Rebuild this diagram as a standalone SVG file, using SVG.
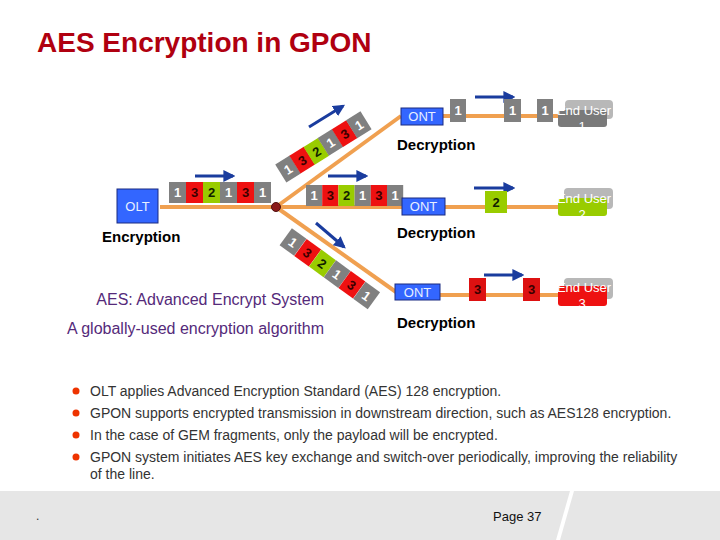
<svg xmlns="http://www.w3.org/2000/svg" width="720" height="540" viewBox="0 0 720 540">
<defs>
<marker id="ah" viewBox="0 0 10 10" refX="8" refY="5" markerWidth="4" markerHeight="4" orient="auto" markerUnits="strokeWidth">
<path d="M0,0 L10,5 L0,10 z" fill="#1a3c9e"/>
</marker>
<style>
.fiber{stroke:#f0a050;stroke-width:4;fill:none}
.arr{stroke:#1a3c9e;stroke-width:3;fill:none;marker-end:url(#ah)}
.g{fill:#808080}
.r{fill:#ee1111}
.gr{fill:#99cc00}
.dw{font-family:"Liberation Sans",Arial,sans-serif;font-size:13px;font-weight:bold;fill:#ffffff;text-anchor:middle}
.dk{font-family:"Liberation Sans",Arial,sans-serif;font-size:13px;font-weight:bold;fill:#3a0000;text-anchor:middle}
.dg{font-family:"Liberation Sans",Arial,sans-serif;font-size:13px;font-weight:bold;fill:#102000;text-anchor:middle}
.ont{fill:#3366ff;stroke:#1a2a80;stroke-width:1}
.ontt{font-family:"Liberation Sans",Arial,sans-serif;font-size:13px;fill:#e8f0ff;text-anchor:middle}
.lbl{font-family:"Liberation Sans",Arial,sans-serif;font-size:15px;font-weight:bold;fill:#000}
.eu{font-family:"Liberation Sans",Arial,sans-serif;font-size:13px;fill:#ffffff;text-anchor:middle}
.sh{fill:#b8b8b8}
.bt{font-family:"Liberation Sans",Arial,sans-serif;font-size:14px;fill:#333}
.pur{font-family:"Liberation Sans",Arial,sans-serif;font-size:16px;fill:#552a7a;text-anchor:end}
</style>
</defs>
<rect width="720" height="540" fill="#ffffff"/>
<text x="37" y="52" font-family="Liberation Sans,Arial,sans-serif" font-size="28" font-weight="bold" fill="#b00010">AES Encryption in GPON</text>

<g id="connectors">
<line class="fiber" x1="160" y1="207" x2="276" y2="207"/>
<line class="fiber" x1="276" y1="207" x2="402" y2="207"/>
<line class="fiber" x1="276" y1="207" x2="401" y2="116"/>
<line class="fiber" x1="276" y1="207" x2="396" y2="292"/>
<line class="fiber" x1="443" y1="116" x2="560" y2="116"/>
<line class="fiber" x1="445" y1="207" x2="560" y2="207"/>
<line class="fiber" x1="440" y1="295" x2="560" y2="295"/>
<line class="arr" x1="195" y1="176" x2="233" y2="176"/>
<line class="arr" x1="328" y1="176" x2="366" y2="176"/>
<line class="arr" x1="309" y1="127" x2="343" y2="106"/>
<line class="arr" x1="316" y1="223" x2="344" y2="247"/>
<line class="arr" x1="475" y1="97" x2="513" y2="97"/>
<line class="arr" x1="474" y1="188" x2="513" y2="188"/>
<line class="arr" x1="484" y1="275" x2="522" y2="275"/>
</g>

<g id="splitter"><circle cx="276" cy="207" r="4.5" fill="#8b1a1a" stroke="#501010" stroke-width="1"/></g>

<g id="olt">
<rect x="117" y="189" width="41" height="34" fill="#3366ff" stroke="#1a2a80" stroke-width="1"/>
<text x="137.5" y="211" class="ontt" font-size="14">OLT</text>
<text x="102" y="242" class="lbl" font-size="14">Encryption</text>
</g>

<g id="packets-olt">
<rect class="g" x="169" y="182" width="17" height="21"/><text class="dw" x="177.5" y="197">1</text>
<rect class="r" x="186" y="182" width="17" height="21"/><text class="dk" x="194.5" y="197">3</text>
<rect class="gr" x="203" y="182" width="17" height="21"/><text class="dg" x="211.5" y="197">2</text>
<rect class="g" x="220" y="182" width="17" height="21"/><text class="dw" x="228.5" y="197">1</text>
<rect class="r" x="237" y="182" width="17" height="21"/><text class="dk" x="245.5" y="197">3</text>
<rect class="g" x="254" y="182" width="17" height="21"/><text class="dw" x="262.5" y="197">1</text>
</g>

<g id="packets-mid">
<rect class="g" x="306" y="185" width="16.2" height="21"/><text class="dw" x="314" y="200">1</text>
<rect class="r" x="322.2" y="185" width="16.2" height="21"/><text class="dk" x="330.3" y="200">3</text>
<rect class="gr" x="338.4" y="185" width="16.2" height="21"/><text class="dg" x="346.5" y="200">2</text>
<rect class="g" x="354.6" y="185" width="16.2" height="21"/><text class="dw" x="362.7" y="200">1</text>
<rect class="r" x="370.8" y="185" width="16.2" height="21"/><text class="dk" x="378.9" y="200">3</text>
<rect class="g" x="387" y="185" width="16.2" height="21"/><text class="dw" x="395.1" y="200">1</text>
</g>

<g id="packets-up" transform="translate(288,169) rotate(-32)">
<rect class="g" x="-8.5" y="-10.5" width="17" height="21"/><text class="dw" x="0" y="5">1</text>
<rect class="r" x="8.2" y="-10.5" width="17" height="21"/><text class="dk" x="16.7" y="5">3</text>
<rect class="gr" x="24.9" y="-10.5" width="17" height="21"/><text class="dg" x="33.4" y="5">2</text>
<rect class="g" x="41.6" y="-10.5" width="17" height="21"/><text class="dw" x="50.1" y="5">1</text>
<rect class="r" x="58.3" y="-10.5" width="17" height="21"/><text class="dk" x="66.8" y="5">3</text>
<rect class="g" x="75" y="-10.5" width="17" height="21"/><text class="dw" x="83.5" y="5">1</text>
</g>

<g id="packets-down" transform="translate(293,242) rotate(36)">
<rect class="g" x="-9" y="-10.5" width="18" height="21"/><text class="dw" x="0" y="5">1</text>
<rect class="r" x="9.2" y="-10.5" width="18" height="21"/><text class="dk" x="18.2" y="5">3</text>
<rect class="gr" x="27.4" y="-10.5" width="18" height="21"/><text class="dg" x="36.4" y="5">2</text>
<rect class="g" x="45.6" y="-10.5" width="18" height="21"/><text class="dw" x="54.6" y="5">1</text>
<rect class="r" x="63.8" y="-10.5" width="18" height="21"/><text class="dk" x="72.8" y="5">3</text>
<rect class="g" x="82" y="-10.5" width="18" height="21"/><text class="dw" x="91" y="5">1</text>
</g>

<g id="ont1">
<rect class="ont" x="401" y="108" width="42" height="17"/>
<text class="ontt" x="422" y="121">ONT</text>
<text class="lbl" x="397" y="150">Decryption</text>
</g>
<g id="ont2">
<rect class="ont" x="402" y="198" width="43" height="17"/>
<text class="ontt" x="423.5" y="211">ONT</text>
<text class="lbl" x="397" y="238">Decryption</text>
</g>
<g id="ont3">
<rect class="ont" x="395" y="284" width="45" height="16"/>
<text class="ontt" x="417.5" y="297">ONT</text>
<text class="lbl" x="397" y="328">Decryption</text>
</g>

<g id="packets-1">
<rect class="g" x="450" y="99" width="16" height="23"/><text class="dw" x="458" y="115">1</text>
<rect class="g" x="504" y="99" width="17" height="23"/><text class="dw" x="512.5" y="115">1</text>
<rect class="g" x="537" y="99" width="16" height="23"/><text class="dw" x="545" y="115">1</text>
</g>
<g id="packets-2">
<rect class="gr" x="485" y="191" width="22" height="22"/><text class="dg" x="496" y="207">2</text>
</g>
<g id="packets-3">
<rect fill="#dd1111" x="469" y="278" width="17" height="23"/><text class="dk" x="477.5" y="294">3</text>
<rect fill="#dd1111" x="523" y="278" width="17" height="23"/><text class="dk" x="531.5" y="294">3</text>
</g>

<g id="enduser1">
<rect class="sh" x="565" y="100" width="48" height="19" rx="4"/>
<rect fill="#7a7a7a" x="558" y="110" width="49" height="17" rx="3"/>
<text class="eu" x="584" y="115">End User</text>
<text class="eu" x="582" y="131">1</text>
</g>
<g id="enduser2">
<rect class="sh" x="564" y="188" width="49" height="21" rx="4"/>
<rect fill="#99cc00" x="558" y="198" width="49" height="18" rx="3"/>
<text class="eu" x="584" y="203">End User</text>
<text class="eu" x="582" y="219">2</text>
</g>
<g id="enduser3">
<rect class="sh" x="564" y="278" width="49" height="21" rx="4"/>
<rect fill="#ee1111" x="558" y="286" width="49" height="20" rx="3"/>
<text class="eu" x="584" y="292">End User</text>
<text class="eu" x="582" y="308">3</text>
</g>

<text class="pur" x="324" y="305">AES: Advanced Encrypt System</text>
<text class="pur" x="324" y="334">A globally-used encryption algorithm</text>

<g id="bullets">
<circle cx="76" cy="391" r="3.5" fill="#ee3300"/>
<circle cx="76" cy="413" r="3.5" fill="#ee3300"/>
<circle cx="76" cy="435" r="3.5" fill="#ee3300"/>
<circle cx="76" cy="457" r="3.5" fill="#ee3300"/>
<text class="bt" x="90" y="396">OLT applies Advanced Encryption Standard (AES) 128 encryption.</text>
<text class="bt" x="90" y="418">GPON supports encrypted transmission in downstream direction, such as AES128 encryption.</text>
<text class="bt" x="90" y="440">In the case of GEM fragments, only the payload will be encrypted.</text>
<text class="bt" x="90" y="462">GPON system initiates AES key exchange and switch-over periodically, improving the reliability</text>
<text class="bt" x="90" y="479">of the line.</text>
</g>

<g id="footer">
<rect x="0" y="491" width="720" height="49" fill="#e6e6e6"/>
<polygon points="570,491 574,491 560,540 556,540" fill="#ffffff"/>
<text x="36" y="520" font-family="Liberation Sans,Arial,sans-serif" font-size="12" fill="#333">.</text>
<text x="493" y="521" font-family="Liberation Sans,Arial,sans-serif" font-size="13" fill="#111">Page 37</text>
</g>
</svg>
